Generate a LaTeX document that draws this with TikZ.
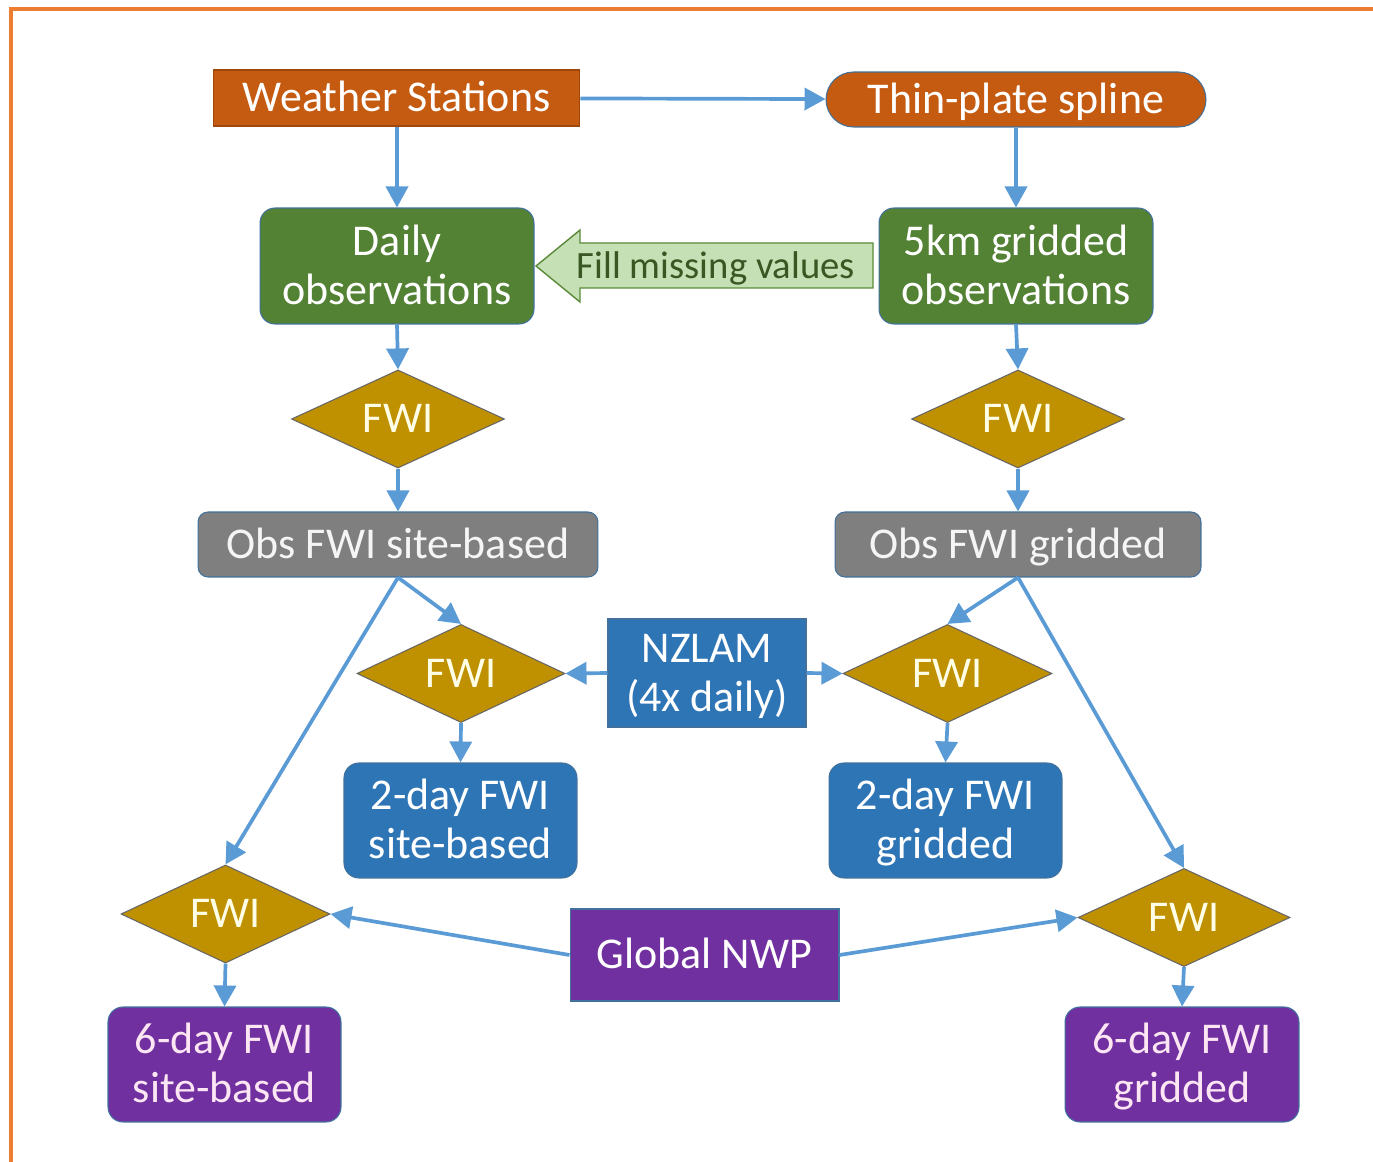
\documentclass[tikz,border=0pt]{standalone}
\usepackage{fontspec}
\setmainfont{Carlito}
\usetikzlibrary{shapes.geometric,arrows.meta}
\definecolor{frameor}{HTML}{ED7D31}
\definecolor{boxor}{HTML}{C55A11}
\definecolor{boxgreen}{HTML}{548235}
\definecolor{boxgray}{HTML}{7F7F7F}
\definecolor{boxblue}{HTML}{2E75B6}
\definecolor{boxpurple}{HTML}{7030A0}
\definecolor{diafill}{HTML}{BF9000}
\definecolor{arrblue}{HTML}{5B9BD5}
\definecolor{edgeblue}{HTML}{41719C}
\definecolor{lightgreen}{HTML}{C5E0B4}
\definecolor{darkgreen}{HTML}{385723}
\definecolor{midgreen}{HTML}{70AD47}
\newcommand{\tl}[1]{\rule{0pt}{0.632em}\smash{#1}}
\tikzset{
  base/.style={align=center, text=white, inner sep=0pt, font=\fontsize{25}{28}\selectfont},
  sqbox/.style={base, rectangle, draw=edgeblue, line width=0.6pt},
  rbox/.style={base, rectangle, rounded corners=0.3cm, draw=edgeblue, line width=0.6pt},
  fwidia/.style={base, diamond, fill=diafill, draw=gray!80!black, line width=0.6pt, text=white!90!yellow},
  conn/.style={draw=arrblue, line width=2.1pt, -{Triangle[length=0.42cm,width=0.44cm]}},
}
\begin{document}
\begin{tikzpicture}[x=0.02cm,y=-0.02cm]
\useasboundingbox (0,0) rectangle (1373,1162);
\fill[white] (0,0) rectangle (1373,1162);
\draw[frameor, line width=1.8pt] (11,1170) -- (11,9) -- (1380,9);

% top row
\node[sqbox, fill=boxor, draw=boxor!80!black, minimum width=7.34cm, minimum height=1.12cm] (ws) at (396.5,98) {\tl{Weather Stations}};
\node[base, rectangle, rounded corners=0.55cm, fill=boxor, draw=edgeblue, line width=0.6pt, minimum width=7.6cm, minimum height=1.1cm] (tps) at (1016,99.5) {\tl{Thin-plate spline}};

% observations
\node[rbox, fill=boxgreen, minimum width=5.48cm, minimum height=2.32cm] (daily) at (397,266) {\tl{Daily}\\\tl{observations}};
\node[rbox, fill=boxgreen, minimum width=5.48cm, minimum height=2.32cm] (grid) at (1016,266) {\tl{5km gridded}\\\tl{observations}};

% fill missing values block arrow
\draw[fill=lightgreen, draw=midgreen!80!black, line width=0.8pt]
  (873,243) -- (580,243) -- (580,230) -- (536,266) -- (580,302) -- (580,288) -- (873,288) -- cycle;
\node[base, text=darkgreen, font=\fontsize{22}{26}\selectfont] (fill) at (716,266) {\tl{Fill missing values}};

% FWI first level
\node[fwidia, minimum width=4.26cm, minimum height=1.72cm] (f1) at (398,419) {\tl{FWI}};
\node[fwidia, minimum width=4.26cm, minimum height=1.72cm] (f2) at (1018,419) {\tl{FWI}};

% obs FWI
\node[rbox, fill=boxgray, rounded corners=0.2cm, minimum width=8.0cm, minimum height=1.3cm, text=white!92!gray] (o1) at (398,544.5) {\tl{Obs FWI site-based}};
\node[rbox, fill=boxgray, rounded corners=0.2cm, minimum width=7.32cm, minimum height=1.3cm, text=white!92!gray] (o2) at (1018,544.5) {\tl{Obs FWI gridded}};

% NZLAM
\node[sqbox, fill=boxblue, minimum width=3.96cm, minimum height=2.16cm] (nz) at (707,673) {\tl{NZLAM}\\\tl{(4x daily)}};

% FWI mid
\node[fwidia, minimum width=4.16cm, minimum height=1.66cm] (f3) at (461,673.5) {\tl{FWI}};
\node[fwidia, minimum width=4.18cm, minimum height=1.66cm] (f4) at (947.5,673.5) {\tl{FWI}};

% 2-day
\node[rbox, fill=boxblue, minimum width=4.66cm, minimum height=2.3cm] (d1) at (460.5,820.5) {\tl{2-day FWI}\\\tl{site-based}};
\node[rbox, fill=boxblue, minimum width=4.66cm, minimum height=2.3cm] (d2) at (945.5,820.5) {\tl{2-day FWI}\\\tl{gridded}};

% FWI bottom
\node[fwidia, minimum width=4.18cm, minimum height=1.92cm] (f5) at (225.5,914) {\tl{FWI}};
\node[fwidia, minimum width=4.24cm, minimum height=1.78cm] (f6) at (1184,917.5) {\tl{FWI}};

% Global NWP
\node[sqbox, fill=boxpurple, minimum width=5.38cm, minimum height=1.84cm] (gn) at (704.5,955) {\tl{Global NWP}};

% 6-day
\node[rbox, fill=boxpurple, minimum width=4.66cm, minimum height=2.3cm, text=white!90!magenta] (s1) at (224.5,1064.5) {\tl{6-day FWI}\\\tl{site-based}};
\node[rbox, fill=boxpurple, minimum width=4.68cm, minimum height=2.3cm, text=white!90!magenta] (s2) at (1182,1064.5) {\tl{6-day FWI}\\\tl{gridded}};

% connectors
\draw[conn] (ws) -- (tps);
\draw[conn] (ws.south -| daily.north) -- (daily.north);
\draw[conn] (tps.south) -- (grid.north);
\draw[conn] (daily.south) -- (f1.north);
\draw[conn] (grid.south) -- (f2.north);
\draw[conn] (f1.south) -- (o1.north);
\draw[conn] (f2.south) -- (o2.north);
\draw[conn] (o1.south) -- (f3.north);
\draw[conn] (o2.south) -- (f4.north);
\draw[conn] (o1.south) -- (f5.north);
\draw[conn] (o2.south) -- (f6.north);
\draw[conn] (nz.west) -- (f3.east);
\draw[conn] (nz.east) -- (f4.west);
\draw[conn] (f3.south) -- (d1.north);
\draw[conn] (f4.south) -- (d2.north);
\draw[conn] (gn.west) -- (f5.east);
\draw[conn] (gn.east) -- (f6.west);
\draw[conn] (f5.south) -- (s1.north);
\draw[conn] (f6.south) -- (s2.north);
\end{tikzpicture}
\end{document}
